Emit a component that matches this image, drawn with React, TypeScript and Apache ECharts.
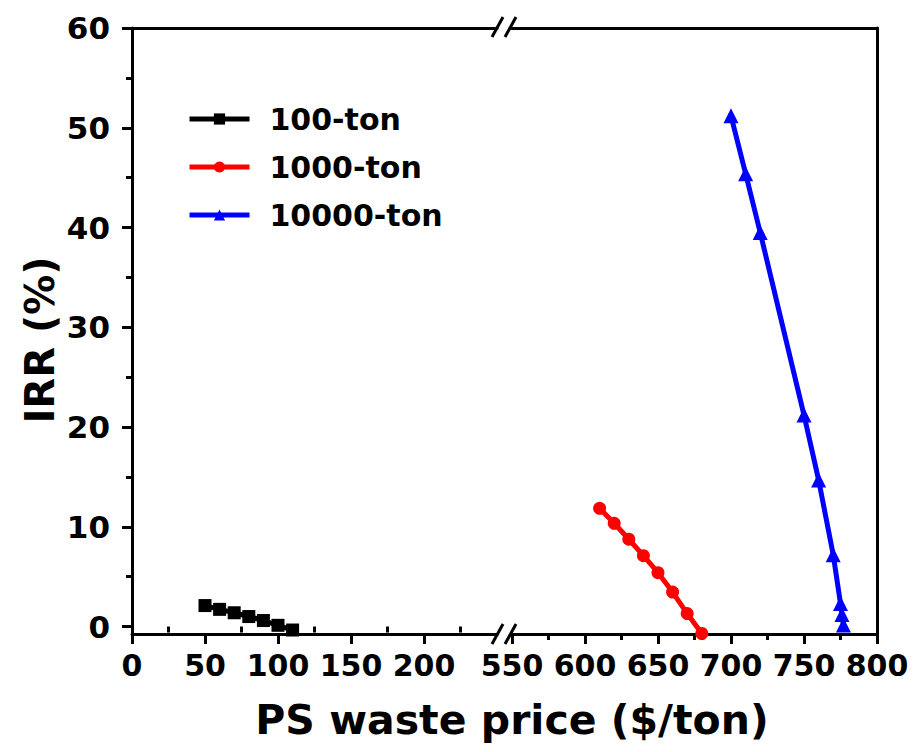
import React, { useEffect, useRef } from "react";
import * as echarts from "echarts";

// ---- data ----
const seriesNames = ["100-ton", "1000-ton", "10000-ton"];
const price100 = [50, 60, 70, 80, 90, 100, 110];
const irr100 = [2.1, 1.72, 1.38, 1.0, 0.6, 0.12, -0.35];
const price1000 = [610, 620, 630, 640, 650, 660, 670, 680];
const irr1000 = [11.85, 10.35, 8.75, 7.1, 5.4, 3.45, 1.3, -0.7];
const price10000 = [700, 710, 720, 750, 760, 770, 775, 776, 777];
const irr10000 = [51.2, 45.4, 39.5, 21.2, 14.7, 7.2, 2.3, 1.2, 0.15];

const leftTicks = [0, 50, 100, 150, 200];
const leftMinorTicks = [25, 75, 125, 175, 225];
const yTicks = [0, 10, 20, 30, 40, 50, 60];
const yMinorTicks = [5, 15, 25, 35, 45, 55];

const FONT = "'DejaVu Sans', sans-serif";
const BLACK = "#000000";

function pairs(xs: number[], ys: number[]) {
  return xs.map((x, i) => [x, ys[i]]);
}

export default function App() {
  const ref = useRef<HTMLDivElement>(null);

  useEffect(() => {
    if (!ref.current) return;
    const chart = echarts.init(ref.current, undefined, { renderer: "svg" });

    const axisLine = { show: true, onZero: false, lineStyle: { color: BLACK, width: 3 } };
    const labelStyle = {
      color: BLACK,
      fontFamily: FONT,
      fontWeight: "bold" as const,
      fontSize: 30,
    };
    const yMin = -0.75;
    const yMax = 60;

    const option: any = {
      animation: false,
      backgroundColor: "#ffffff",
      grid: [
        { left: 132, top: 28, width: 365, height: 606 },
        { left: 512, top: 28, width: 365, height: 606 },
      ],
      legend: {
        data: seriesNames,
        orient: "vertical",
        left: 182,
        top: 98,
        itemWidth: 60,
        itemHeight: 14,
        itemGap: 16,
        lineStyle: { width: 5 },
        textStyle: {
          color: BLACK,
          fontFamily: FONT,
          fontWeight: "bold",
          fontSize: 30,
          lineHeight: 32,
          padding: [0, 0, 0, 15],
        },
      },
      xAxis: [
        {
          gridIndex: 0,
          type: "value",
          min: 0,
          max: 250,
          interval: 50,
          position: "bottom",
          axisLine,
          axisTick: { show: true, customValues: leftTicks, length: 10, lineStyle: { color: BLACK, width: 3 } },
          axisLabel: { ...labelStyle, customValues: leftTicks, margin: 16 },
          splitLine: { show: false },
        },
        {
          gridIndex: 0,
          type: "value",
          min: 0,
          max: 250,
          interval: 50,
          position: "bottom",
          axisLine: { show: false },
          axisTick: { show: true, customValues: leftMinorTicks, length: 6, lineStyle: { color: BLACK, width: 3 } },
          axisLabel: { show: false },
          splitLine: { show: false },
        },
        {
          gridIndex: 0,
          type: "value",
          min: 0,
          max: 250,
          position: "top",
          axisLine,
          axisTick: { show: false },
          axisLabel: { show: false },
          splitLine: { show: false },
        },
        {
          gridIndex: 1,
          type: "value",
          min: 550,
          max: 800,
          interval: 50,
          position: "bottom",
          axisLine,
          axisTick: { show: true, length: 10, lineStyle: { color: BLACK, width: 3 } },
          minorTick: { show: true, splitNumber: 2, length: 6, lineStyle: { color: BLACK, width: 3 } },
          axisLabel: { ...labelStyle, margin: 16 },
          splitLine: { show: false },
          minorSplitLine: { show: false },
        },
        {
          gridIndex: 1,
          type: "value",
          min: 550,
          max: 800,
          position: "top",
          axisLine,
          axisTick: { show: false },
          axisLabel: { show: false },
          splitLine: { show: false },
        },
      ],
      yAxis: [
        {
          gridIndex: 0,
          type: "value",
          min: yMin,
          max: yMax,
          splitNumber: 6,
          position: "left",
          axisLine,
          axisTick: { show: true, customValues: yTicks, length: 10, lineStyle: { color: BLACK, width: 3 } },
          axisLabel: { ...labelStyle, fontSize: 31, customValues: yTicks, margin: 22 },
          splitLine: { show: false },
        },
        {
          gridIndex: 0,
          type: "value",
          min: yMin,
          max: yMax,
          splitNumber: 6,
          position: "left",
          axisLine: { show: false },
          axisTick: { show: true, customValues: yMinorTicks, length: 6, lineStyle: { color: BLACK, width: 3 } },
          axisLabel: { show: false },
          splitLine: { show: false },
        },
        {
          gridIndex: 1,
          type: "value",
          min: yMin,
          max: yMax,
          splitNumber: 6,
          show: false,
          splitLine: { show: false },
        },
        {
          gridIndex: 1,
          type: "value",
          min: yMin,
          max: yMax,
          splitNumber: 6,
          position: "right",
          axisLine,
          axisTick: { show: false },
          axisLabel: { show: false },
          splitLine: { show: false },
        },
      ],
      series: [
        {
          name: seriesNames[0],
          type: "line",
          xAxisIndex: 0,
          yAxisIndex: 0,
          data: pairs(price100, irr100),
          symbol: "rect",
          symbolSize: 13,
          lineStyle: { color: BLACK, width: 5 },
          itemStyle: { color: BLACK },
          clip: true,
        },
        {
          name: seriesNames[1],
          type: "line",
          xAxisIndex: 3,
          yAxisIndex: 2,
          data: pairs(price1000, irr1000),
          symbol: "circle",
          symbolSize: 13,
          lineStyle: { color: "#ff0000", width: 5 },
          itemStyle: { color: "#ff0000" },
          clip: true,
        },
        {
          name: seriesNames[2],
          type: "line",
          xAxisIndex: 3,
          yAxisIndex: 2,
          data: pairs(price10000, irr10000),
          symbol: "triangle",
          symbolSize: 15,
          lineStyle: { color: "#0000ff", width: 5 },
          itemStyle: { color: "#0000ff" },
          clip: true,
        },
      ],
      graphic: [
        // axis break marks
        { type: "line", shape: { x1: 492, y1: 644, x2: 503, y2: 624 }, style: { stroke: BLACK, lineWidth: 3 } },
        { type: "line", shape: { x1: 505, y1: 644, x2: 516, y2: 624 }, style: { stroke: BLACK, lineWidth: 3 } },
        { type: "line", shape: { x1: 492, y1: 37, x2: 503, y2: 17 }, style: { stroke: BLACK, lineWidth: 3 } },
        { type: "line", shape: { x1: 505, y1: 37, x2: 516, y2: 17 }, style: { stroke: BLACK, lineWidth: 3 } },
        {
          type: "text",
          x: 512,
          y: 720,
          style: {
            text: "PS waste price ($/ton)",
            fill: BLACK,
            font: `bold 41px ${FONT}`,
            align: "center",
            verticalAlign: "middle",
          },
        },
        {
          type: "text",
          x: 40,
          y: 340,
          rotation: Math.PI / 2,
          style: {
            text: "IRR (%)",
            fill: BLACK,
            font: `bold 40px ${FONT}`,
            align: "center",
            verticalAlign: "middle",
          },
        },
      ],
    };

    chart.setOption(option);
    return () => chart.dispose();
  }, []);

  return (
    <div
      ref={ref}
      style={{ position: "absolute", left: 0, top: 0, width: 917, height: 752 }}
    />
  );
}
